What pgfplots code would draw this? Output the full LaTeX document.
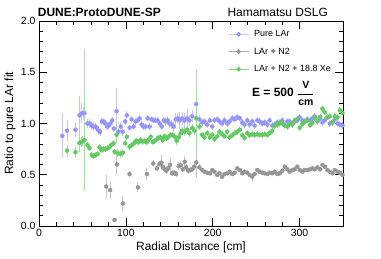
\documentclass[border=0pt]{standalone}
\usepackage{fontspec}
\setmainfont{Liberation Sans}
\usepackage{amsmath}
\usepackage{pgfplots}
\usepackage{pgfplotstable}
\pgfplotsset{compat=1.18}
\definecolor{blueC}{RGB}{150,150,250}
\definecolor{grayC}{RGB}{150,150,150}
\definecolor{greenC}{RGB}{100,200,100}

\pgfplotstableread{
r v e
26.9 0.88 0.22
32.3 0.93 0.10
42.0 0.94 0.07
46.6 1.08 0.19
49.3 1.10 0.10
51.0 1.10 0.06
52.3 1.10 0.63
55.8 1.00 0.04
58.1 1.00 0.04
60.8 0.98 0.04
62.7 0.97 0.04
64.7 0.97 0.03
66.6 0.96 0.03
68.5 0.93 0.04
70.4 0.92 0.04
72.4 1.02 0.03
74.7 1.02 0.03
76.6 1.00 0.03
78.5 0.97 0.03
80.4 0.98 0.03
82.4 1.00 0.03
84.3 1.03 0.03
86.2 0.95 0.03
89.3 1.12 0.23
91.6 0.92 0.04
94.1 0.97 0.04
96.6 0.92 0.04
99.3 1.02 0.03
101.2 1.08 0.04
104.3 0.96 0.03
106.6 1.04 0.03
108.9 0.97 0.03
111.2 1.02 0.03
113.6 1.03 0.03
115.9 1.05 0.03
118.2 0.99 0.03
120.5 0.97 0.03
122.8 0.97 0.03
125.1 1.05 0.03
127.4 0.97 0.03
129.7 1.04 0.03
132.0 1.03 0.03
134.3 1.03 0.03
136.6 1.03 0.03
139.0 1.00 0.03
141.3 0.97 0.03
143.6 1.03 0.03
145.9 1.02 0.04
148.2 1.03 0.04
150.5 1.00 0.04
152.8 0.99 0.04
155.1 0.97 0.05
157.4 1.04 0.06
159.8 1.05 0.05
162.0 1.03 0.08
164.8 1.05 0.06
167.6 1.03 0.07
170.5 1.05 0.09
173.2 1.03 0.05
176.3 1.07 0.06
181.0 1.19 0.33
184.7 1.04 0.04
187.8 1.01 0.03
190.5 1.02 0.03
193.6 0.99 0.03
196.7 1.03 0.03
199.4 0.97 0.03
202.0 1.03 0.03
205.2 1.04 0.03
207.8 1.02 0.03
210.9 1.00 0.03
213.6 1.03 0.03
216.7 1.00 0.03
219.4 1.02 0.03
222.5 1.05 0.03
225.5 1.04 0.03
228.2 1.06 0.03
231.3 1.05 0.03
234.0 1.01 0.03
236.7 0.99 0.03
239.8 1.03 0.03
242.5 0.99 0.03
245.5 1.02 0.03
248.2 0.98 0.03
251.3 1.03 0.03
254.0 1.02 0.03
257.1 1.00 0.03
259.8 1.01 0.03
262.9 0.99 0.03
265.5 1.03 0.03
268.6 0.98 0.03
271.3 0.99 0.03
274.4 1.01 0.03
277.1 1.00 0.03
280.2 1.03 0.03
282.9 0.98 0.03
286.0 1.02 0.03
288.6 1.02 0.03
291.7 1.00 0.03
294.4 1.02 0.03
297.5 1.03 0.03
300.2 1.06 0.03
303.3 1.03 0.03
305.9 1.02 0.03
309.0 1.04 0.03
312.1 1.03 0.03
314.8 1.05 0.03
317.5 1.07 0.03
320.6 1.02 0.03
323.7 1.05 0.03
326.3 1.01 0.03
329.0 1.03 0.03
332.1 1.06 0.03
334.8 1.00 0.03
337.9 1.01 0.03
340.6 1.04 0.03
343.7 1.00 0.03
346.3 0.99 0.03
349.4 0.98 0.03
}\pureLAr

\pgfplotstableread{
r v e
77.4 0.385 0.11
81.9 0.35 0.09
87.0 0.06 0.02
89.7 0.60 0.10
96.6 0.22 0.07
104.3 0.507 0.03
113.9 0.377 0.05
124.3 0.507 0.06
131.6 0.61 0.03
135.9 0.563 0.03
138.6 0.605 0.03
140.9 0.618 0.07
142.4 0.579 0.03
144.7 0.553 0.03
146.7 0.54 0.03
148.6 0.563 0.03
150.9 0.595 0.07
153.2 0.514 0.03
155.5 0.52 0.03
157.8 0.507 0.03
160.9 0.585 0.04
163.2 0.595 0.04
165.5 0.553 0.03
167.8 0.627 0.06
169.4 0.572 0.03
171.7 0.54 0.03
174.0 0.546 0.03
176.3 0.553 0.03
178.6 0.579 0.03
181.0 0.62 0.15
184.7 0.572 0.03
187.8 0.546 0.02
190.5 0.53 0.02
193.6 0.52 0.02
196.7 0.514 0.02
199.4 0.546 0.02
202.0 0.53 0.02
205.2 0.498 0.02
207.8 0.514 0.02
210.9 0.481 0.02
213.6 0.507 0.02
216.7 0.514 0.02
219.4 0.53 0.02
222.5 0.507 0.02
225.5 0.52 0.02
228.2 0.562 0.02
231.3 0.546 0.02
234.0 0.514 0.02
236.7 0.53 0.02
239.8 0.52 0.02
242.5 0.498 0.02
245.5 0.481 0.04
248.2 0.507 0.02
251.3 0.546 0.02
254.0 0.53 0.02
257.1 0.52 0.02
259.8 0.514 0.02
262.9 0.507 0.02
265.5 0.52 0.02
268.6 0.514 0.02
271.3 0.53 0.02
274.4 0.507 0.02
277.1 0.514 0.02
280.2 0.54 0.02
282.9 0.579 0.02
286.0 0.553 0.02
288.6 0.53 0.02
291.7 0.546 0.02
294.4 0.553 0.02
297.5 0.579 0.02
300.2 0.546 0.02
303.3 0.53 0.02
305.9 0.546 0.02
309.0 0.546 0.02
312.1 0.553 0.02
314.8 0.562 0.02
317.5 0.553 0.02
320.6 0.572 0.02
323.7 0.553 0.02
326.3 0.595 0.02
329.0 0.579 0.02
332.1 0.546 0.02
334.8 0.53 0.02
337.9 0.514 0.02
340.6 0.546 0.02
343.7 0.53 0.02
346.3 0.52 0.02
349.4 0.498 0.02
}\lArNtwo

\pgfplotstableread{
r v e
32.3 0.735 0.06
42.0 0.72 0.05
46.6 0.81 0.09
48.5 0.82 0.05
50.2 0.826 0.05
52.3 0.84 0.49
55.8 0.79 0.03
58.1 0.76 0.03
60.8 0.693 0.03
63.0 0.683 0.03
65.0 0.69 0.03
67.7 0.703 0.03
69.7 0.768 0.03
71.9 0.741 0.03
74.2 0.754 0.03
76.5 0.748 0.03
78.8 0.758 0.03
81.1 0.768 0.03
83.0 0.79 0.03
85.8 0.806 0.03
87.0 0.725 0.03
89.3 0.89 0.08
90.8 0.71 0.04
93.5 0.703 0.04
96.6 0.715 0.04
99.3 0.806 0.03
101.2 0.87 0.03
104.3 0.774 0.03
107.0 0.79 0.03
109.3 0.806 0.03
112.0 0.832 0.03
114.7 0.816 0.03
117.0 0.839 0.03
119.3 0.823 0.03
121.6 0.829 0.03
123.9 0.816 0.03
126.3 0.839 0.03
128.6 0.871 0.03
130.9 0.819 0.03
133.2 0.829 0.03
135.5 0.845 0.03
137.8 0.862 0.03
140.1 0.865 0.03
142.4 0.839 0.03
144.7 0.875 0.03
147.0 0.855 0.03
149.3 0.871 0.03
151.7 0.888 0.03
154.0 0.888 0.03
156.3 0.871 0.04
158.6 0.832 0.04
160.9 0.865 0.04
163.3 0.904 0.04
164.7 0.93 0.04
167.6 0.92 0.04
170.5 0.94 0.04
173.2 0.905 0.04
176.3 0.955 0.04
179.0 0.93 0.04
181.0 1.05 0.30
184.7 0.97 0.03
187.8 0.89 0.03
190.5 0.865 0.03
193.6 0.905 0.03
196.7 0.865 0.03
199.4 0.89 0.03
202.0 0.85 0.03
205.2 0.875 0.03
207.8 0.92 0.03
210.9 0.895 0.03
213.6 0.875 0.03
216.7 0.92 0.03
219.4 0.865 0.03
222.5 0.885 0.03
225.5 0.905 0.03
228.2 0.92 0.03
231.3 0.94 0.03
234.0 0.885 0.03
236.7 0.86 0.03
239.8 0.905 0.03
242.5 0.885 0.03
245.5 0.895 0.03
248.2 0.89 0.03
251.3 0.895 0.03
254.0 0.89 0.03
257.1 0.89 0.03
259.8 0.895 0.03
262.9 0.89 0.03
265.5 0.905 0.03
268.6 0.93 0.03
271.3 0.975 0.03
274.4 0.99 0.03
277.1 1.01 0.03
280.2 1.0 0.03
282.9 0.985 0.03
286.0 0.97 0.03
288.6 0.995 0.03
291.7 0.99 0.03
294.4 1.03 0.03
297.5 1.045 0.03
300.2 0.96 0.03
303.3 0.995 0.03
305.9 1.015 0.03
309.0 1.03 0.03
312.1 0.985 0.03
314.8 1.005 0.03
317.5 1.055 0.03
320.6 1.03 0.03
323.7 1.065 0.03
326.3 1.145 0.03
329.0 1.11 0.03
332.1 1.06 0.03
334.8 1.07 0.03
337.9 1.015 0.03
340.6 1.07 0.03
343.7 1.06 0.03
346.3 1.13 0.03
349.4 1.105 0.03
}\lArNtwoXe

\begin{document}
\begin{tikzpicture}
\begin{axis}[
  width=304bp, height=205bp, scale only axis,
  xmin=0, xmax=350, ymin=0, ymax=2,
  xtick={0,100,200,300}, ytick={0,0.5,1,1.5,2},
  minor x tick num=4, minor y tick num=4,
  tick align=inside, xtick pos=both, ytick pos=both,
  major tick length=8bp, minor tick length=4bp,
  axis line style={line width=0.9bp},
  every tick/.style={black, line width=0.6bp},
  tick label style={font=\fontsize{10.5}{12}\selectfont},
  /pgf/number format/assume math mode=true,
  yticklabel style={/pgf/number format/.cd, fixed, fixed zerofill, precision=1},
  xlabel={Radial Distance [cm]},
  ylabel={Ratio to pure LAr fit},
  label style={font=\fontsize{12}{14}\selectfont},
  xlabel style={at={(axis description cs:0.5,-0.078)}, anchor=north, inner sep=0pt},
  ylabel style={at={(axis description cs:-0.076,0.5)}, anchor=south, inner sep=0pt},
  clip=false,
  legend cell align=left,
  legend image code/.code={\draw[mark repeat=2,mark phase=2] plot coordinates {(0bp,0bp) (10bp,0bp) (20bp,0bp)};},
  legend style={at={(rel axis cs:0.6217,0.9585)}, anchor=north west, draw=none, fill=none,
    font=\fontsize{9}{10}\selectfont, row sep=8.5bp, /tikz/column sep=5bp, inner sep=0pt,
    nodes={inner sep=0pt, text height=7bp, text depth=2bp}},
  error bars/error mark=none,
]
\addplot[only marks, mark=*, mark size=2bp, color=blueC, forget plot,
  error bars/.cd, y dir=both, y explicit,
  error bar style={color=blueC!55!white, line width=1bp}]
  table[x=r, y=v, y error=e] {\pureLAr};
\addplot[only marks, mark=*, mark size=2bp, color=grayC, forget plot,
  error bars/.cd, y dir=both, y explicit,
  error bar style={color=grayC!55!white, line width=1bp}]
  table[x=r, y=v, y error=e] {\lArNtwo};
\addplot[only marks, mark=*, mark size=2bp, color=greenC, forget plot,
  error bars/.cd, y dir=both, y explicit,
  error bar style={color=greenC!60!white, line width=1bp}]
  table[x=r, y=v, y error=e] {\lArNtwoXe};

\addlegendimage{sharp plot, color=blueC!60!white, line width=1bp, mark=*, mark options={blueC, mark size=1.8bp}}
\addlegendentry{Pure LAr}
\addlegendimage{sharp plot, color=grayC!80!white, line width=1bp, mark=*, mark options={grayC, mark size=1.8bp}}
\addlegendentry{LAr + N2}
\addlegendimage{sharp plot, color=greenC!80!white, line width=1bp, mark=*, mark options={greenC, mark size=1.8bp}}
\addlegendentry{LAr + N2 + 18.8 Xe}

\node[anchor=base west, inner sep=0pt, xshift=-1.3bp, yshift=4bp, font=\bfseries\fontsize{12}{14}\selectfont] at (rel axis cs:0,1) {DUNE:ProtoDUNE-SP};
\node[anchor=base east, inner sep=0pt, yshift=4bp, font=\fontsize{12}{14}\selectfont] at (rel axis cs:0.951,1) {Hamamatsu DSLG};
\node[anchor=base west, inner sep=0pt, font=\bfseries\fontsize{12}{14}\selectfont] at (rel axis cs:0.7007,0.63)
  {E = 500 $\dfrac{\text{\fontsize{10.5}{11}\selectfont\bfseries V}}{\text{\fontsize{10.5}{11}\selectfont\bfseries cm}}$};
\end{axis}
\pgfresetboundingbox
\path (current axis.south west) ++(-39bp,-33bp) rectangle ++(381bp,259bp);
\end{tikzpicture}
\end{document}
